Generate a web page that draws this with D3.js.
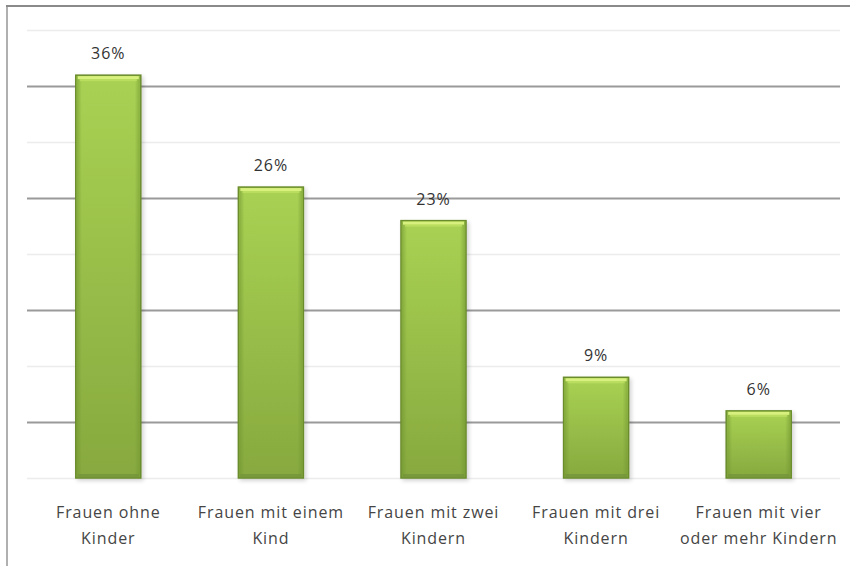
<!DOCTYPE html>
<html>
<head>
<meta charset="utf-8">
<script src="https://cdn.jsdelivr.net/npm/d3@7"></script>
<style>
  html, body { margin: 0; padding: 0; background: #fff; }
  svg { display: block; }
</style>
</head>
<body>
<svg id="chart" width="850" height="566"></svg>
<script>
// Anteil der Frauen nach Kinderzahl
const categories = [
  ["Frauen ohne", "Kinder"],
  ["Frauen mit einem", "Kind"],
  ["Frauen mit zwei", "Kindern"],
  ["Frauen mit drei", "Kindern"],
  ["Frauen mit vier", "oder mehr Kindern"]
];
const values = [36, 26, 23, 9, 6];
const gridTicks = [0, 5, 10, 15, 20, 25, 30, 35, 40];

const width = 850, height = 566;
const margin = { top: 30, right: 8, bottom: 88, left: 27 };
const svg = d3.select("#chart");

const x = d3.scaleBand()
  .domain(categories.map((d, i) => i))
  .range([margin.left, width - margin.right - 2])
  .paddingInner(0.6)
  .paddingOuter(0.3);

const y = d3.scaleLinear()
  .domain([0, 40])
  .range([height - margin.bottom, margin.top + 0.4]);

// chart frame
svg.append("rect")
  .attr("x", 7).attr("y", 6)
  .attr("width", 860).attr("height", 580)
  .attr("fill", "#fff")
  .attr("stroke", "#b0b0b0").attr("stroke-width", 2);
svg.append("line")
  .attr("x1", 6).attr("x2", 850).attr("y1", 6).attr("y2", 6)
  .attr("stroke", "#8a8a8a").attr("stroke-width", 2);

const defs = svg.append("defs");
const body = defs.append("linearGradient").attr("id", "barBody")
  .attr("x1", 0).attr("y1", 0).attr("x2", 0).attr("y2", 1);
body.append("stop").attr("offset", "0%").attr("stop-color", "#a9d253");
body.append("stop").attr("offset", "100%").attr("stop-color", "#87a93f");

const side = defs.append("linearGradient").attr("id", "barSide")
  .attr("x1", 0).attr("y1", 0).attr("x2", 1).attr("y2", 0);
side.append("stop").attr("offset", "0%").attr("stop-color", "#6f9430").attr("stop-opacity", 0.55);
side.append("stop").attr("offset", "8%").attr("stop-color", "#6f9430").attr("stop-opacity", 0);
side.append("stop").attr("offset", "92%").attr("stop-color", "#6f9430").attr("stop-opacity", 0);
side.append("stop").attr("offset", "100%").attr("stop-color", "#6f9430").attr("stop-opacity", 0.55);

const shadow = defs.append("filter").attr("id", "shadow")
  .attr("x", "-20%").attr("y", "-5%").attr("width", "140%").attr("height", "115%");
shadow.append("feGaussianBlur").attr("in", "SourceAlpha").attr("stdDeviation", 2);
shadow.append("feOffset").attr("dx", 2).attr("dy", 2).attr("result", "off");
shadow.append("feComponentTransfer").append("feFuncA").attr("type", "linear").attr("slope", 0.18);
const merge = shadow.append("feMerge");
merge.append("feMergeNode");
merge.append("feMergeNode").attr("in", "SourceGraphic");

// gridlines
svg.append("g")
  .selectAll("line")
  .data(gridTicks)
  .join("line")
  .attr("x1", margin.left)
  .attr("x2", width - margin.right - 2)
  .attr("y1", d => Math.round(y(d)) + 0.5)
  .attr("y2", d => Math.round(y(d)) + 0.5)
  .attr("stroke", d => (d % 10 === 5) ? "#9a9a9a" : "#ececec")
  .attr("stroke-width", d => (d % 10 === 5) ? 2 : 1.5);

// bars
const bars = svg.append("g")
  .selectAll("g")
  .data(values)
  .join("g");

bars.append("rect")
  .attr("x", (d, i) => x(i))
  .attr("y", d => y(d))
  .attr("width", x.bandwidth())
  .attr("height", d => y(0) - y(d))
  .attr("fill", "url(#barBody)")
  .attr("stroke", "#6a8c2c")
  .attr("stroke-width", 1.5)
  .attr("filter", "url(#shadow)");

bars.append("rect")
  .attr("x", (d, i) => x(i) + 1)
  .attr("y", d => y(d) + 1)
  .attr("width", x.bandwidth() - 2)
  .attr("height", d => y(0) - y(d) - 2)
  .attr("fill", "url(#barSide)");

// top highlight
bars.append("rect")
  .attr("x", (d, i) => x(i) + 2)
  .attr("y", d => y(d) + 1)
  .attr("width", x.bandwidth() - 4)
  .attr("height", 3)
  .attr("fill", "#d8f07e");
bars.append("rect")
  .attr("x", (d, i) => x(i) + 4)
  .attr("y", d => y(d) + 4)
  .attr("width", x.bandwidth() - 8)
  .attr("height", 2)
  .attr("fill", "#bfe063")
  .attr("opacity", 0.8);

// bottom shade
bars.append("rect")
  .attr("x", (d, i) => x(i) + 2)
  .attr("y", d => y(0) - 4)
  .attr("width", x.bandwidth() - 4)
  .attr("height", 3)
  .attr("fill", "#72923a")
  .attr("opacity", 0.7);

// value labels
svg.append("g")
  .selectAll("text")
  .data(values)
  .join("text")
  .attr("x", (d, i) => x(i) + x.bandwidth() / 2)
  .attr("y", d => y(d) - 16)
  .attr("text-anchor", "middle")
  .attr("font-family", "'Open Sans', sans-serif")
  .attr("font-size", 16)
  .attr("letter-spacing", 1)
  .attr("fill", "#333")
  .text(d => d + "%");

// category labels
const cat = svg.append("g")
  .selectAll("text")
  .data(categories)
  .join("text")
  .attr("x", (d, i) => x(i) + x.bandwidth() / 2)
  .attr("y", 518)
  .attr("text-anchor", "middle")
  .attr("font-family", "'Open Sans', sans-serif")
  .attr("font-size", 16)
  .attr("letter-spacing", 0.9)
  .attr("fill", "#454545");
cat.selectAll("tspan")
  .data(d => d)
  .join("tspan")
  .attr("x", function() { return d3.select(this.parentNode).attr("x"); })
  .attr("dy", (d, j) => j === 0 ? 0 : 26)
  .text(d => d);
</script>
</body>
</html>
